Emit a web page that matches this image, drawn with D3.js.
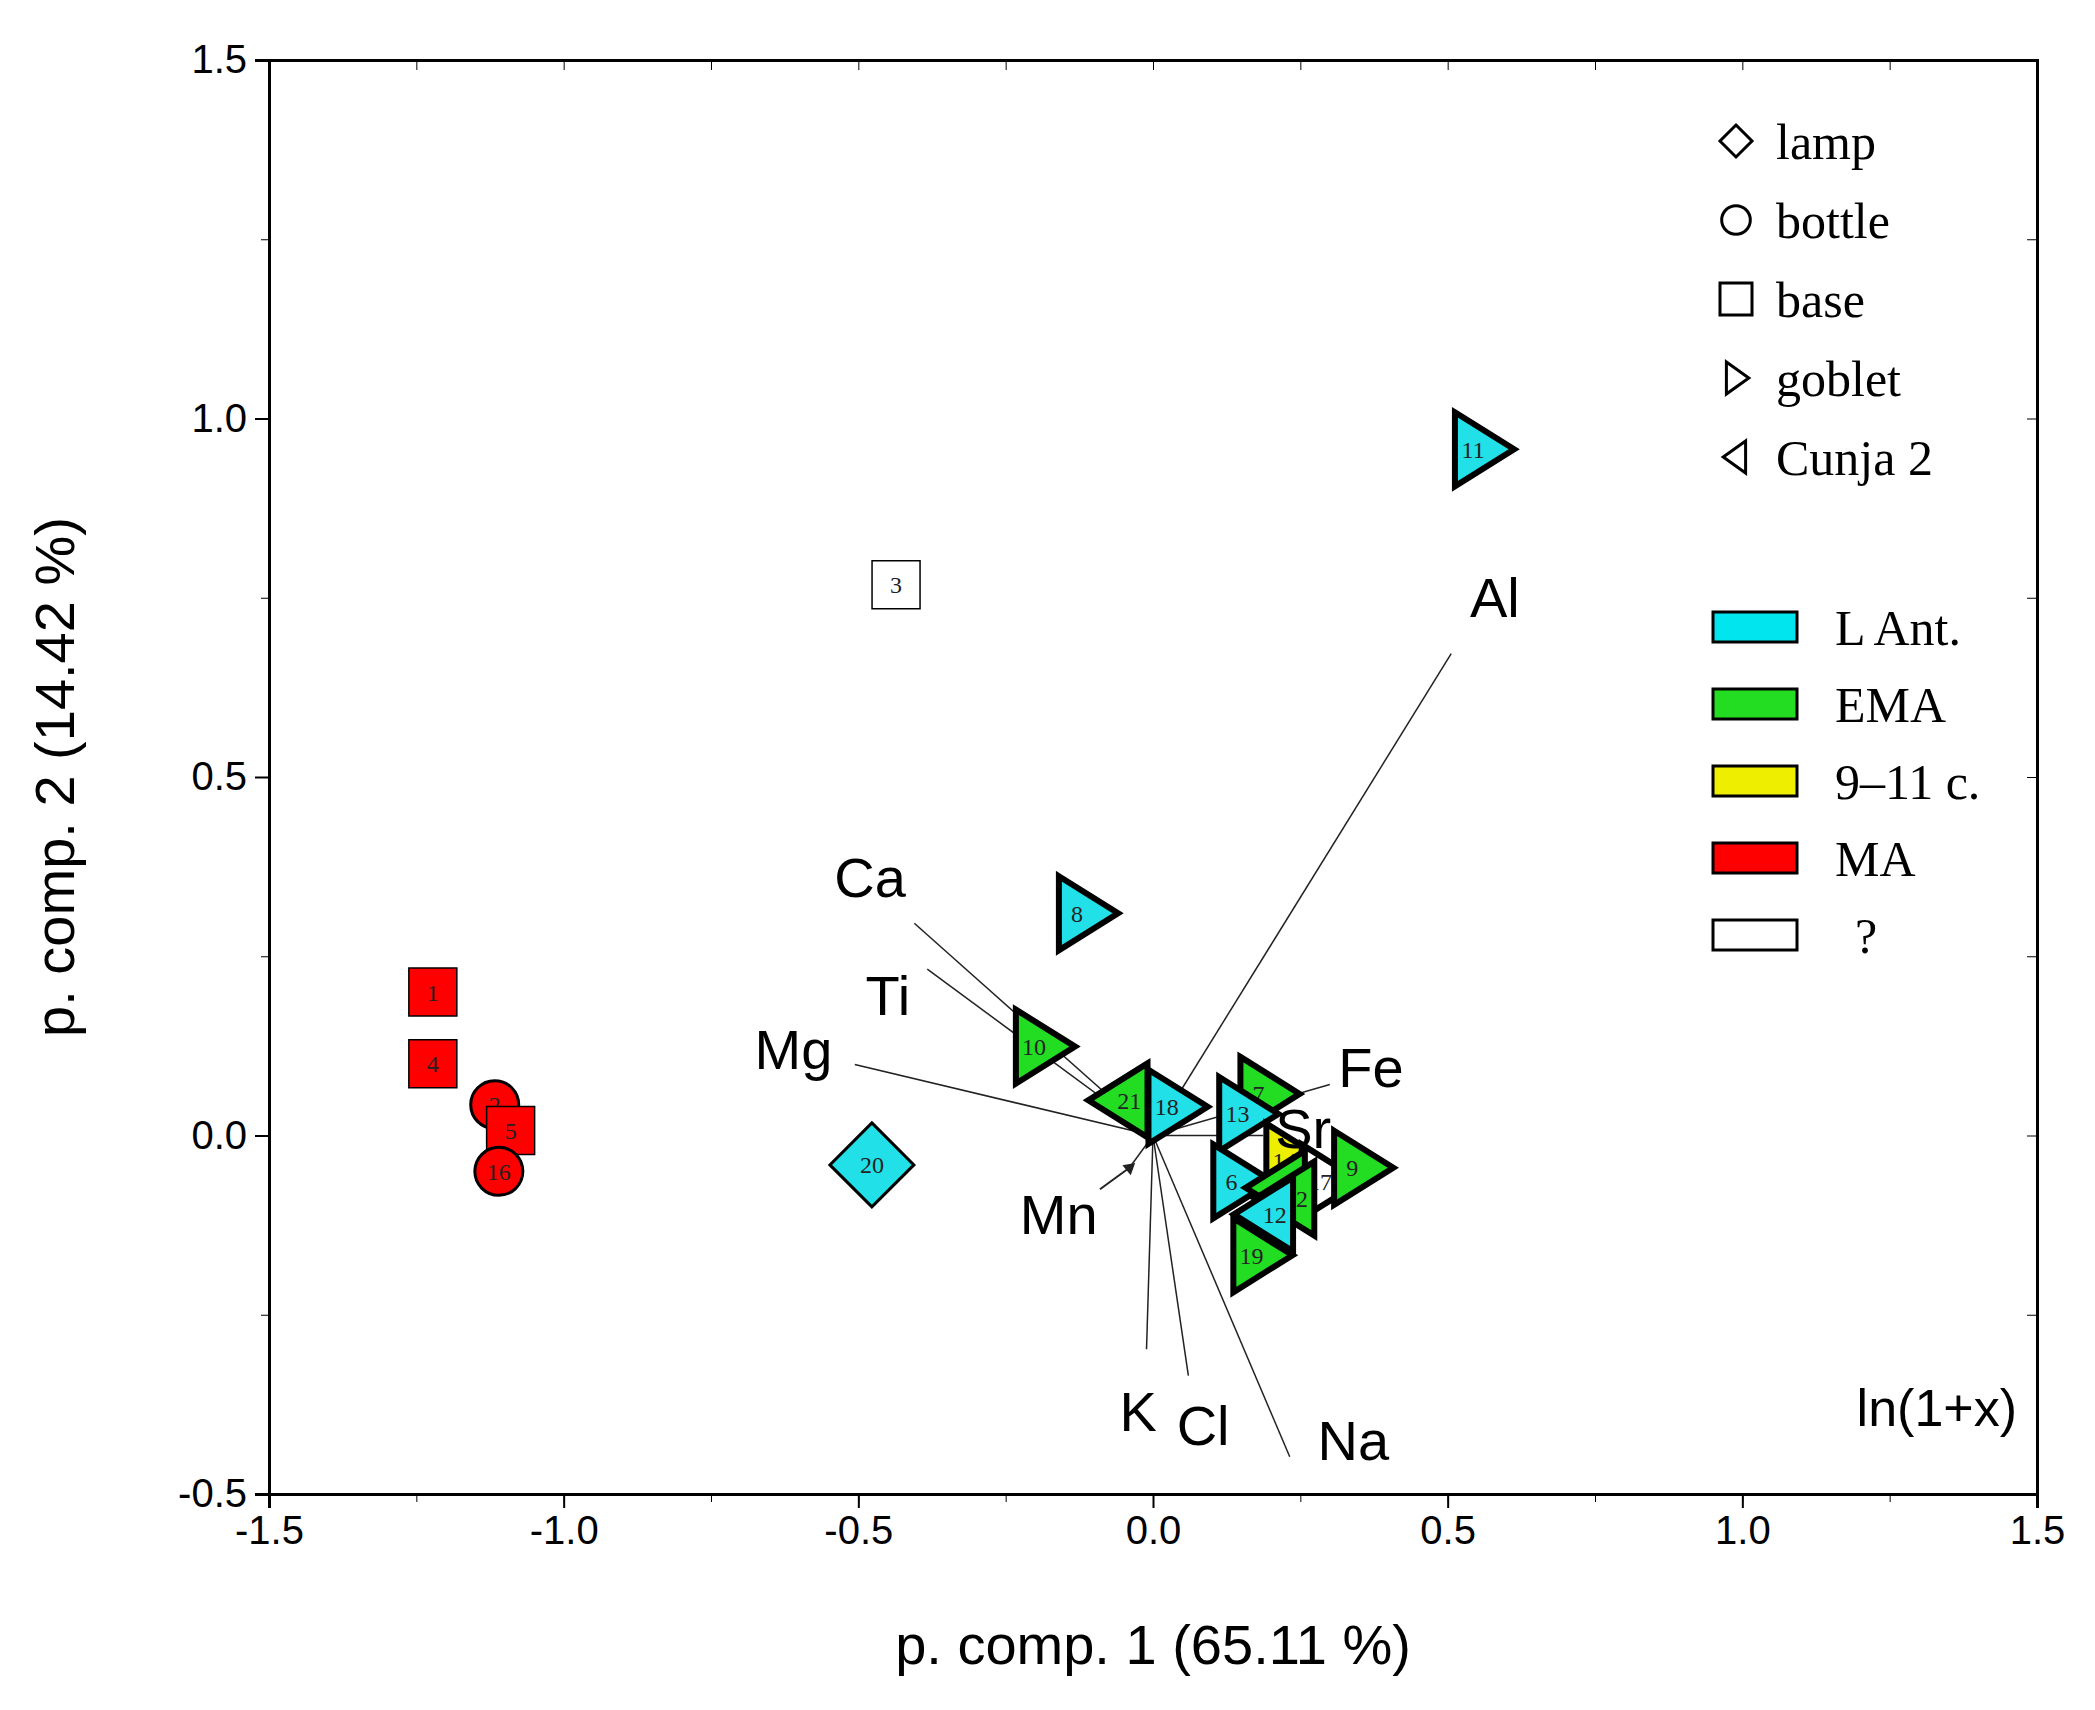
<!DOCTYPE html>
<html><head><meta charset="utf-8">
<script src="https://cdn.jsdelivr.net/npm/d3@7"></script>
<style>body{margin:0;background:#fff}</style>
</head><body><div class="chart"></div>
<script>
// data
const sampleIds   = ['1','4','2','5','16','3','20','8','10','21','18','7','13','6','14','17','9','15','22','12','19','11'];
const sampleX     = [-1.222,-1.222,-1.117,-1.09,-1.11,-0.436,-0.477,-0.122,-0.195,-0.047,0.03,0.186,0.15,0.14,0.23,0.29,0.345,0.22,0.236,0.20,0.174,0.55];
const sampleY     = [0.20,0.10,0.043,0.007,-0.05,0.768,-0.041,0.31,0.124,0.049,0.04,0.058,0.03,-0.064,-0.035,-0.064,-0.045,-0.073,-0.088,-0.11,-0.167,0.957];
const sampleShape = ['base','base','bottle','base','bottle','base','lamp','goblet','goblet','cunja','goblet','goblet','goblet','goblet','goblet','goblet','goblet','cunja','cunja','cunja','goblet','goblet'];
const samplePeriod= ['MA','MA','MA','MA','MA','?','L Ant.','L Ant.','EMA','EMA','L Ant.','EMA','L Ant.','L Ant.','9-11 c.','?','EMA','EMA','EMA','L Ant.','EMA','L Ant.'];

const elements = ['Al','Ca','Ti','Mg','Fe','Sr','Mn','K','Cl','Na'];
const loadX = [0.506,-0.405,-0.383,-0.506,0.30,0.187,-0.04,-0.011,0.06,0.232];
const loadY = [0.672,0.296,0.232,0.099,0.071,0.0,-0.045,-0.298,-0.335,-0.448];
const labelX = [0.58,-0.48,-0.45,-0.61,0.37,0.255,-0.16,-0.025,0.085,0.34];
const labelY = [0.75,0.36,0.195,0.12,0.095,0.01,-0.11,-0.385,-0.405,-0.425];

const shapeLegend = ['lamp','bottle','base','goblet','Cunja 2'];
const periodLegend = ['L Ant.','EMA','9\u201311 c.','MA','?'];
const periodColors = ['#00e5ee','#22dd22','#eeee00','#ff0000','#ffffff'];
const colorOf = p => ({'L Ant.':'#22e0e8','EMA':'#22dd22','9-11 c.':'#eeee00','MA':'#ff0000','?':'#ffffff'})[p];

const W = 2095, H = 1710;
const margin = {top: 60, left: 269, right: 58, bottom: 215};
const w = 1768, h = 1434;

const x = d3.scaleLinear().domain([-1.5,1.5]).range([0,w]);
const y = d3.scaleLinear().domain([-0.5,1.5]).range([h,0]);

const svg = d3.select('.chart').append('svg').attr('width',W).attr('height',H)
  .append('g').attr('transform',`translate(${margin.left},${margin.top})`);

// axes
const fmt = d => d3.format('.1f')(d).replace('\u2212','-');
const tickFont = g => g.selectAll('text').style('font-family','Arial, Liberation Sans').style('font-size','40px');
const majX = [-1.5,-1,-0.5,0,0.5,1,1.5], majY = [-0.5,0,0.5,1,1.5];
const minX = d3.range(-1.5,1.501,0.25), minY = d3.range(-0.5,1.501,0.25);
svg.append('g').attr('transform',`translate(0,${h})`)
  .call(d3.axisBottom(x).tickValues(majX).tickFormat(fmt).tickSize(14).tickPadding(8))
  .call(tickFont).call(g=>g.select('.domain').attr('stroke-width',3)).call(g=>g.selectAll('line').attr('stroke-width',2));
svg.append('g').attr('transform',`translate(0,${h})`)
  .call(d3.axisBottom(x).tickValues(minX).tickFormat('').tickSize(8)).call(g=>g.select('.domain').remove());
svg.append('g')
  .call(d3.axisLeft(y).tickValues(majY).tickFormat(fmt).tickSize(14).tickPadding(8))
  .call(tickFont).call(g=>g.select('.domain').attr('stroke-width',3)).call(g=>g.selectAll('line').attr('stroke-width',2));
svg.append('g').call(d3.axisLeft(y).tickValues(minY).tickFormat('').tickSize(8)).call(g=>g.select('.domain').remove());
svg.append('g').call(d3.axisTop(x).tickValues(minX).tickFormat('').tickSize(-10))
  .call(g=>g.select('.domain').attr('stroke-width',3));
svg.append('g').attr('transform',`translate(${w},0)`).call(d3.axisRight(y).tickValues(minY).tickFormat('').tickSize(-10))
  .call(g=>g.select('.domain').attr('stroke-width',3));

svg.append('text').attr('x',w/2).attr('y',h+170).attr('text-anchor','middle')
  .style('font-family','Arial, Liberation Sans').style('font-size','56px').text('p. comp. 1 (65.11 %)');
svg.append('text').attr('transform',`translate(${-195},${h/2}) rotate(-90)`).attr('text-anchor','middle')
  .style('font-family','Arial, Liberation Sans').style('font-size','56px').text('p. comp. 2 (14.42 %)');

// loading vectors
svg.selectAll('.vec').data(elements).enter().append('line')
  .attr('x1',x(0)).attr('y1',y(0))
  .attr('x2',(d,i)=>x(loadX[i])).attr('y2',(d,i)=>y(loadY[i]))
  .attr('stroke','#222').attr('stroke-width',1.5);
svg.append('path').attr('d',d3.symbol(d3.symbolTriangle2,120)())
  .attr('transform',`translate(${x(loadX[6])},${y(loadY[6])}) rotate(50)`).attr('fill','#222');
svg.append('line').attr('x1',x(-0.09)).attr('y1',y(-0.075)).attr('x2',x(loadX[6])).attr('y2',y(loadY[6])).attr('stroke','#222').attr('stroke-width',2);

// sample markers
const size = {lamp:42, bottle:24, base:24, goblet:37, cunja:37};
const marker = (s) => {
  const r = size[s];
  if (s==='lamp') return `M0,${-r}L${r},0L0,${r}L${-r},0Z`;
  if (s==='base') return `M${-r},${-r}H${r}V${r}H${-r}Z`;
  if (s==='bottle') return d3.symbol(d3.symbolCircle, Math.PI*r*r)();
  if (s==='goblet') return `M${-r*0.6},${-r}L${r},0L${-r*0.6},${r}Z`;
  return `M${r*0.6},${-r}L${-r},0L${r*0.6},${r}Z`;
};
const pts = svg.selectAll('.pt').data(sampleIds).enter().append('g')
  .attr('transform',(d,i)=>`translate(${x(sampleX[i])},${y(sampleY[i])})`);
pts.append('path').attr('d',(d,i)=>marker(sampleShape[i]))
  .attr('fill',(d,i)=>colorOf(samplePeriod[i]))
  .attr('stroke','#000')
  .attr('stroke-width',(d,i)=>['goblet','cunja'].includes(sampleShape[i])?6:(sampleShape[i]==='base'?1.5:3));
pts.append('text').attr('text-anchor','middle').attr('dy','0.35em')
  .attr('dx',(d,i)=>sampleShape[i]==='goblet'?-4:(sampleShape[i]==='cunja'?4:0))
  .style('font-family','Liberation Serif, Times New Roman').style('font-size','24px').attr('fill','#222').text(d=>d);

// element labels
svg.selectAll('.el').data(elements).enter().append('text')
  .attr('x',(d,i)=>x(labelX[i])).attr('y',(d,i)=>y(labelY[i])).attr('text-anchor','middle').attr('dy','0.35em')
  .style('font-family','Arial, Liberation Sans').style('font-size','56px').text(d=>d);
svg.append('text').attr('x',x(1.33)).attr('y',y(-0.38)).attr('text-anchor','middle').attr('dy','0.35em')
  .style('font-family','Arial, Liberation Sans').style('font-size','52px').text('ln(1+x)');

// legends
const legShapes = ['lamp','bottle','base','goblet','cunja'];
const lg = svg.selectAll('.ls').data(shapeLegend).enter().append('g')
  .attr('transform',(d,i)=>`translate(${1467},${81+i*79})`);
lg.append('path').attr('d',(d,i)=>{
  const s=legShapes[i], r=16;
  if (s==='lamp') return `M0,${-r}L${r},0L0,${r}L${-r},0Z`;
  if (s==='bottle') return d3.symbol(d3.symbolCircle, Math.PI*r*r*0.8)();
  if (s==='base') return `M${-r},${-r}H${r}V${r}H${-r}Z`;
  if (s==='goblet') return `M${-r*0.6},${-r}L${r*0.8},0L${-r*0.6},${r}Z`;
  return `M${r*0.6},${-r}L${-r*0.8},0L${r*0.6},${r}Z`;
}).attr('fill','none').attr('stroke','#000').attr('stroke-width',3);
lg.append('text').attr('x',40).attr('dy','0.35em')
  .style('font-family','Liberation Serif, Times New Roman').style('font-size','50px').text(d=>d);

const pg = svg.selectAll('.lp').data(periodLegend).enter().append('g')
  .attr('transform',(d,i)=>`translate(${1444},${567+i*77})`);
pg.append('rect').attr('x',0).attr('y',-15).attr('width',84).attr('height',30)
  .attr('fill',(d,i)=>periodColors[i]).attr('stroke','#000').attr('stroke-width',3);
pg.append('text').attr('x',(d,i)=>i===4?142:122).attr('dy','0.35em')
  .style('font-family','Liberation Serif, Times New Roman').style('font-size','50px').text(d=>d);
</script></body></html>
